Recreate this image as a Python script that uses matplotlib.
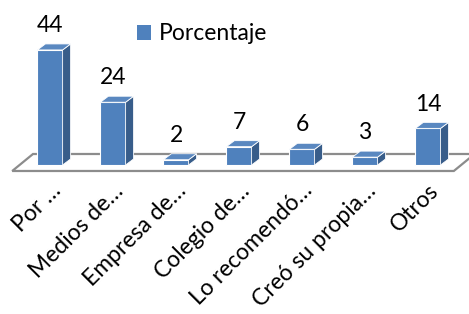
import matplotlib.pyplot as plt
from matplotlib.patches import Polygon, Patch

categories = ['Por …', 'Medios de…', 'Empresa de…', 'Colegio de…',
              'Lo recomendó…', 'Creó su propia…', 'Otros']
porcentaje = [44, 24, 2, 7, 6, 3, 14]

front = '#4f81bd'
side = '#385d8a'
top = '#5a88c0'

plt.rcParams['font.family'] = ['Lato', 'DejaVu Sans']

fig = plt.figure(figsize=(4.69, 3.14), dpi=100)
ax = fig.add_axes([0, 0, 1, 1])
ax.set_xlim(-0.794, 6.651)
ax.set_ylim(-57.0, 63.1)
ax.axis('off')

w = 0.4
dx, dy = 0.127, 2.3

# floor
fl, fr, fb, ft = -0.60, 6.41, -2.3, 4.2
sh = 0.33
ax.add_patch(Polygon([(fl, fb), (fr, fb), (fr + sh, ft), (fl + sh, ft)],
                     closed=True, facecolor='white', edgecolor='#8c8c8c',
                     lw=1.6, zorder=1))

x = list(range(len(categories)))
ax.bar(x, porcentaje, width=w, color=front, edgecolor='white', lw=0.8, zorder=3)
for xi, v in zip(x, porcentaje):
    r = xi + w / 2
    l = xi - w / 2
    ax.add_patch(Polygon([(r, 0), (r + dx, dy), (r + dx, v + dy), (r, v)],
                         closed=True, facecolor=side, edgecolor='white',
                         lw=0.6, zorder=3))
    ax.add_patch(Polygon([(l, v), (r, v), (r + dx, v + dy), (l + dx, v + dy)],
                         closed=True, facecolor=top, edgecolor='white',
                         lw=0.6, zorder=3))
    ax.annotate(str(v), (xi, v + dy), xytext=(0, 8.5), textcoords='offset points',
                ha='center', va='baseline', fontsize=16.5)

for xi, lab in zip(x, categories):
    ax.annotate(lab, (xi, -10.3), xytext=(8.5, 0), textcoords='offset points',
                ha='right', va='baseline', rotation=45, rotation_mode='anchor',
                fontsize=16.5)

ax.legend(handles=[Patch(facecolor=front, label='Porcentaje')],
          loc='center left', bbox_to_anchor=(137 / 469, 1 - 34 / 314),
          frameon=False, fontsize=16.5, handlelength=0.6, handleheight=0.6,
          handletextpad=0.35, borderpad=0, borderaxespad=0)

fig.savefig('out.png', dpi=100)
